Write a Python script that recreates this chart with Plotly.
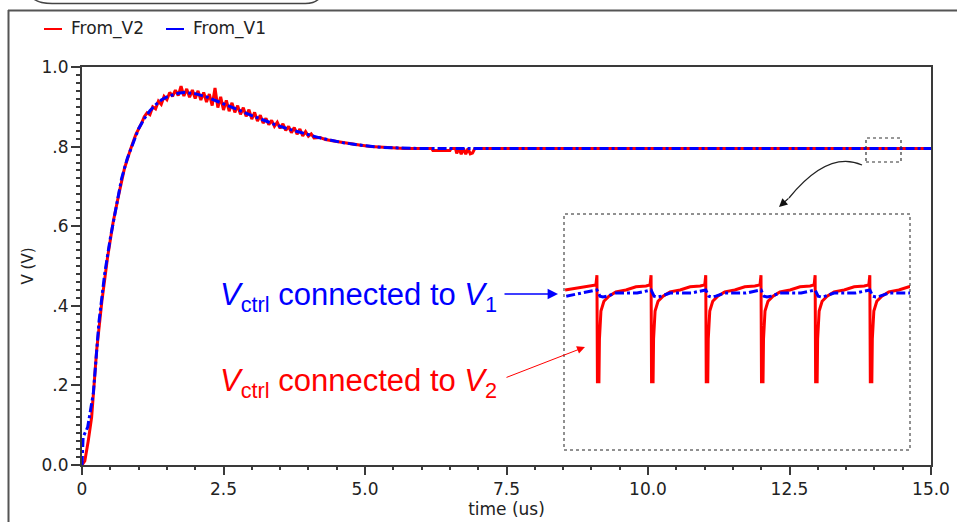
import plotly.graph_objects as go

W, H = 957, 522
L, R, T, B = 82, 931, 67, 465  # plot area in pixels

def fx(p):
    return (p - L) / (R - L)

def fy(p):
    return (B - p) / (B - T)

# ---------------- data ----------------
v1_t = [0, 0.02, 0.1, 0.2, 0.3, 0.4, 0.5, 0.6, 0.7, 0.8,
        0.9, 1.0, 1.1, 1.2, 1.3, 1.4, 1.5, 1.6, 1.7, 1.8,
        1.9, 2.0, 2.2, 2.4, 2.6, 2.8, 3.0, 3.2, 3.4, 3.6,
        3.8, 4.0, 4.2, 4.4, 4.6, 4.8, 5.0, 5.3, 5.6, 6.0,
        8.0, 10.0, 12.0, 15.0]
v1_v = [0, 0.07, 0.095, 0.18, 0.36, 0.48, 0.57, 0.65, 0.72, 0.77,
        0.81, 0.845, 0.87, 0.89, 0.905, 0.917, 0.925, 0.93, 0.934, 0.936,
        0.935, 0.933, 0.925, 0.914, 0.902, 0.89, 0.878, 0.866, 0.856, 0.846,
        0.838, 0.83, 0.822, 0.816, 0.81, 0.806, 0.802, 0.798, 0.796, 0.795,
        0.795, 0.795, 0.795, 0.795]

v2_t = [0, 0.05, 0.11, 0.17, 0.26, 0.35, 0.45, 0.55, 0.65, 0.75,
        0.85, 0.95, 1.05, 1.1, 1.15, 1.2, 1.25, 1.3, 1.35, 1.4,
        1.45, 1.5, 1.55, 1.6, 1.65, 1.7, 1.75, 1.8, 1.85, 1.9,
        1.95, 2.0, 2.05, 2.1, 2.15, 2.2, 2.25, 2.3, 2.35, 2.4,
        2.45, 2.5, 2.55, 2.6, 2.65, 2.7, 2.75, 2.8, 2.85, 2.9,
        2.95, 3.0, 3.05, 3.1, 3.15, 3.2, 3.25, 3.3, 3.35, 3.4,
        3.45, 3.5, 3.55, 3.6, 3.65, 3.7, 3.75, 3.8, 3.85, 3.9,
        3.95, 4.0, 4.05, 4.1, 4.2, 4.3, 4.5, 4.7, 4.9, 5.1,
        5.4, 5.7, 6.0, 6.18, 6.2, 6.5, 6.52, 6.6, 6.62, 6.66,
        6.7, 6.74, 6.78, 6.82, 6.86, 6.9, 6.94, 8.0, 10.0, 15.0]
v2_v = [0, 0.01, 0.06, 0.12, 0.29, 0.41, 0.52, 0.61, 0.68, 0.745,
        0.79, 0.83, 0.858, 0.875, 0.885, 0.88, 0.9, 0.895, 0.914, 0.906,
        0.926, 0.918, 0.936, 0.926, 0.942, 0.928, 0.952, 0.927, 0.945, 0.924,
        0.942, 0.921, 0.94, 0.917, 0.936, 0.912, 0.932, 0.903, 0.947, 0.898,
        0.925, 0.892, 0.916, 0.889, 0.91, 0.886, 0.903, 0.881, 0.898, 0.876,
        0.893, 0.869, 0.886, 0.864, 0.879, 0.859, 0.871, 0.855, 0.866, 0.851,
        0.861, 0.846, 0.857, 0.841, 0.851, 0.835, 0.848, 0.831, 0.844, 0.827,
        0.838, 0.826, 0.832, 0.822, 0.823, 0.818, 0.813, 0.808, 0.804, 0.8,
        0.797, 0.795, 0.795, 0.795, 0.79, 0.79, 0.795, 0.795, 0.783, 0.795,
        0.781, 0.795, 0.781, 0.795, 0.782, 0.784, 0.795, 0.795, 0.795, 0.795]

# zoomed window (inset): switching spikes
spike_t = [13.929, 14.026, 14.124, 14.223, 14.320, 14.418]
# one period of the V2 waveform, offsets from each spike (us) and values (V)
v2_period_dt = [-0.0018, 0.0, 0.0009, 0.0036, 0.0045, 0.0072, 0.0125, 0.0215, 0.034,
                0.052, 0.070, 0.088, 0.095]
v2_period_v = [0.8034, 0.8059, 0.7785, 0.7785, 0.7895, 0.7967, 0.7992, 0.8005, 0.8016,
               0.8021, 0.8029, 0.8031, 0.8034]
v1_period_dt = [0.0, 0.0054, 0.0108, 0.018, 0.034, 0.072, 0.090, 0.0968]
v1_period_v = [0.8021, 0.8005, 0.8003, 0.8005, 0.8013, 0.8013, 0.8018, 0.8021]
inset_start_t = 13.872
v2_inset_start_v = 0.8021
v1_inset_start_v = 0.8005

x_ticks = [0, 2.5, 5.0, 7.5, 10.0, 12.5, 15.0]
x_ticktext = ["0", "2.5", "5.0", "7.5", "10.0", "12.5", "15.0"]
y_ticks = [0, 0.2, 0.4, 0.6, 0.8, 1.0]
y_ticktext = ["0.0", ".2", ".4", ".6", ".8", "1.0"]

assert len(v1_t) == len(v1_v) and len(v2_t) == len(v2_v)

RED = "#ff0000"
BLUE = "#0000ff"

# build inset series from the per-period shape
in2_t, in2_v = [inset_start_t], [v2_inset_start_v]
in1_t, in1_v = [inset_start_t + 0.002], [v1_inset_start_v]
for s in spike_t:
    for d, v in zip(v2_period_dt, v2_period_v):
        in2_t.append(s + d)
        in2_v.append(v)
    for d, v in zip(v1_period_dt, v1_period_v):
        in1_t.append(s + d)
        in1_v.append(v)

fig = go.Figure()
fig.add_trace(go.Scatter(x=v2_t, y=v2_v, mode="lines", name="From_V2",
                         line=dict(color=RED, width=3)))
fig.add_trace(go.Scatter(x=v1_t, y=v1_v, mode="lines", name="From_V1",
                         line=dict(color=BLUE, width=3, dash="dashdot")))
fig.add_trace(go.Scatter(x=in2_t, y=in2_v, mode="lines", xaxis="x2", yaxis="y2",
                         line=dict(color=RED, width=3), showlegend=False))
fig.add_trace(go.Scatter(x=in1_t, y=in1_v, mode="lines", xaxis="x2", yaxis="y2",
                         line=dict(color=BLUE, width=3, dash="dashdot"), showlegend=False))

axis_col = "#3a3a3a"
TXT = "#222222"
tick_font = dict(family="DejaVu Sans", size=17, color=TXT)

fig.update_layout(
    width=W, height=H,
    margin=dict(l=L, r=W - R, t=T, b=H - B, autoexpand=False),
    paper_bgcolor="white", plot_bgcolor="white",
    showlegend=False,
    xaxis=dict(range=[0, 15], showgrid=False, zeroline=False, showline=True, mirror=True,
               automargin=False,
               linecolor=axis_col, linewidth=2, ticks="outside", ticklen=8, tickwidth=1.5,
               tickcolor=axis_col, tickvals=x_ticks, ticktext=x_ticktext, tickfont=tick_font,
               minor=dict(ticks="outside", dtick=0.5, ticklen=3, tickwidth=1.5, tickcolor=axis_col),
               title=dict(text="time (us)", font=dict(family="DejaVu Sans", size=17, color=TXT),
                          standoff=2)),
    yaxis=dict(range=[0, 1], showgrid=False, zeroline=False, showline=True, mirror=True,
               automargin=False, ticklabelstandoff=-1,
               linecolor=axis_col, linewidth=2, ticks="outside", ticklen=9, tickwidth=1.5,
               tickcolor=axis_col, tickvals=y_ticks, ticktext=y_ticktext, tickfont=tick_font,
               minor=dict(ticks="outside", dtick=0.02, ticklen=4, tickwidth=1.5, tickcolor=axis_col),
               title=dict(text="V (V)", font=dict(family="DejaVu Sans", size=15, color=TXT),
                          standoff=4)),
    xaxis2=dict(domain=[fx(564), fx(910)], range=[13.87, 14.49], visible=False, anchor="y2"),
    yaxis2=dict(domain=[fy(450), fy(214)], range=[0.761, 0.8216], visible=False, anchor="x2"),
)

shapes = []
# outer frame
shapes.append(dict(type="line", xref="paper", yref="paper", x0=fx(8), x1=fx(957),
                   y0=fy(10.5), y1=fy(10.5), line=dict(color="#555555", width=2)))
shapes.append(dict(type="line", xref="paper", yref="paper", x0=fx(8.5), x1=fx(8.5),
                   y0=fy(10), y1=fy(522), line=dict(color="#555555", width=2)))
# rounded box at top-left (partially visible)
pts = [(30, -6), (34, 4), (54, 3.5), (304, 3.5), (318, 4), (322, -6)]
path = "M {},{} Q {},{} {},{} L {},{} Q {},{} {},{}".format(
    fx(pts[0][0]), fy(pts[0][1]), fx(pts[1][0]), fy(pts[1][1]), fx(pts[2][0]), fy(pts[2][1]),
    fx(pts[3][0]), fy(pts[3][1]), fx(pts[4][0]), fy(pts[4][1]), fx(pts[5][0]), fy(pts[5][1]))
shapes.append(dict(type="path", xref="paper", yref="paper", path=path,
                   line=dict(color="#444444", width=1.5)))
# inset frame and small selection box
shapes.append(dict(type="rect", xref="paper", yref="paper", x0=fx(564), x1=fx(910),
                   y0=fy(450), y1=fy(214), line=dict(color="#222222", width=1, dash="dot")))
shapes.append(dict(type="rect", xref="paper", yref="paper", x0=fx(866), x1=fx(901),
                   y0=fy(162), y1=fy(138), line=dict(color="#333333", width=1.2, dash="dot")))
# curved arrow shaft
cpath = "M {},{} Q {},{} {},{}".format(fx(862), fy(165), fx(828), fy(150), fx(789), fy(198))
shapes.append(dict(type="path", xref="paper", yref="paper", path=cpath,
                   line=dict(color="#222222", width=1.2)))
# manual legend samples
shapes.append(dict(type="line", xref="paper", yref="paper", x0=fx(44), x1=fx(62),
                   y0=fy(29), y1=fy(29), line=dict(color=RED, width=2)))
shapes.append(dict(type="line", xref="paper", yref="paper", x0=fx(166), x1=fx(184),
                   y0=fy(29), y1=fy(29), line=dict(color=BLUE, width=2)))
fig.update_layout(shapes=shapes)

ann = []
ann.append(dict(xref="paper", yref="paper", x=fx(69), y=fy(29), xanchor="left", yanchor="middle",
                text="From_V2", showarrow=False,
                font=dict(family="DejaVu Sans", size=17, color=TXT)))
ann.append(dict(xref="paper", yref="paper", x=fx(191), y=fy(29), xanchor="left", yanchor="middle",
                text="From_V1", showarrow=False,
                font=dict(family="DejaVu Sans", size=17, color=TXT)))
# labels
ann.append(dict(xref="paper", yref="paper", x=fx(218), y=fy(297), xanchor="left", yanchor="middle",
                text="<i>V</i><sub>ctrl</sub> connected to <i>V</i><sub>1</sub>", showarrow=False,
                font=dict(family="Liberation Sans", size=31, color=BLUE)))
ann.append(dict(xref="paper", yref="paper", x=fx(218), y=fy(383), xanchor="left", yanchor="middle",
                text="<i>V</i><sub>ctrl</sub> connected to <i>V</i><sub>2</sub>", showarrow=False,
                font=dict(family="Liberation Sans", size=31, color=RED)))
# arrows
ann.append(dict(xref="paper", yref="paper", x=fx(558), y=fy(294), ax=-55, ay=0, text="",
                showarrow=True, arrowhead=2, arrowsize=1.6, arrowwidth=1.3, arrowcolor=BLUE))
ann.append(dict(xref="paper", yref="paper", x=fx(585), y=fy(347), ax=-80, ay=31, text="",
                showarrow=True, arrowhead=2, arrowsize=1.6, arrowwidth=1.0, arrowcolor=RED))
ann.append(dict(xref="paper", yref="paper", x=fx(779), y=fy(207), ax=11, ay=-10, text="",
                showarrow=True, arrowhead=2, arrowsize=1.4, arrowwidth=1.2, arrowcolor="#111111"))
fig.update_layout(annotations=ann)

fig.write_html("out.html", config={"displayModeBar": False},
               post_script="document.body.style.margin='0px';")
